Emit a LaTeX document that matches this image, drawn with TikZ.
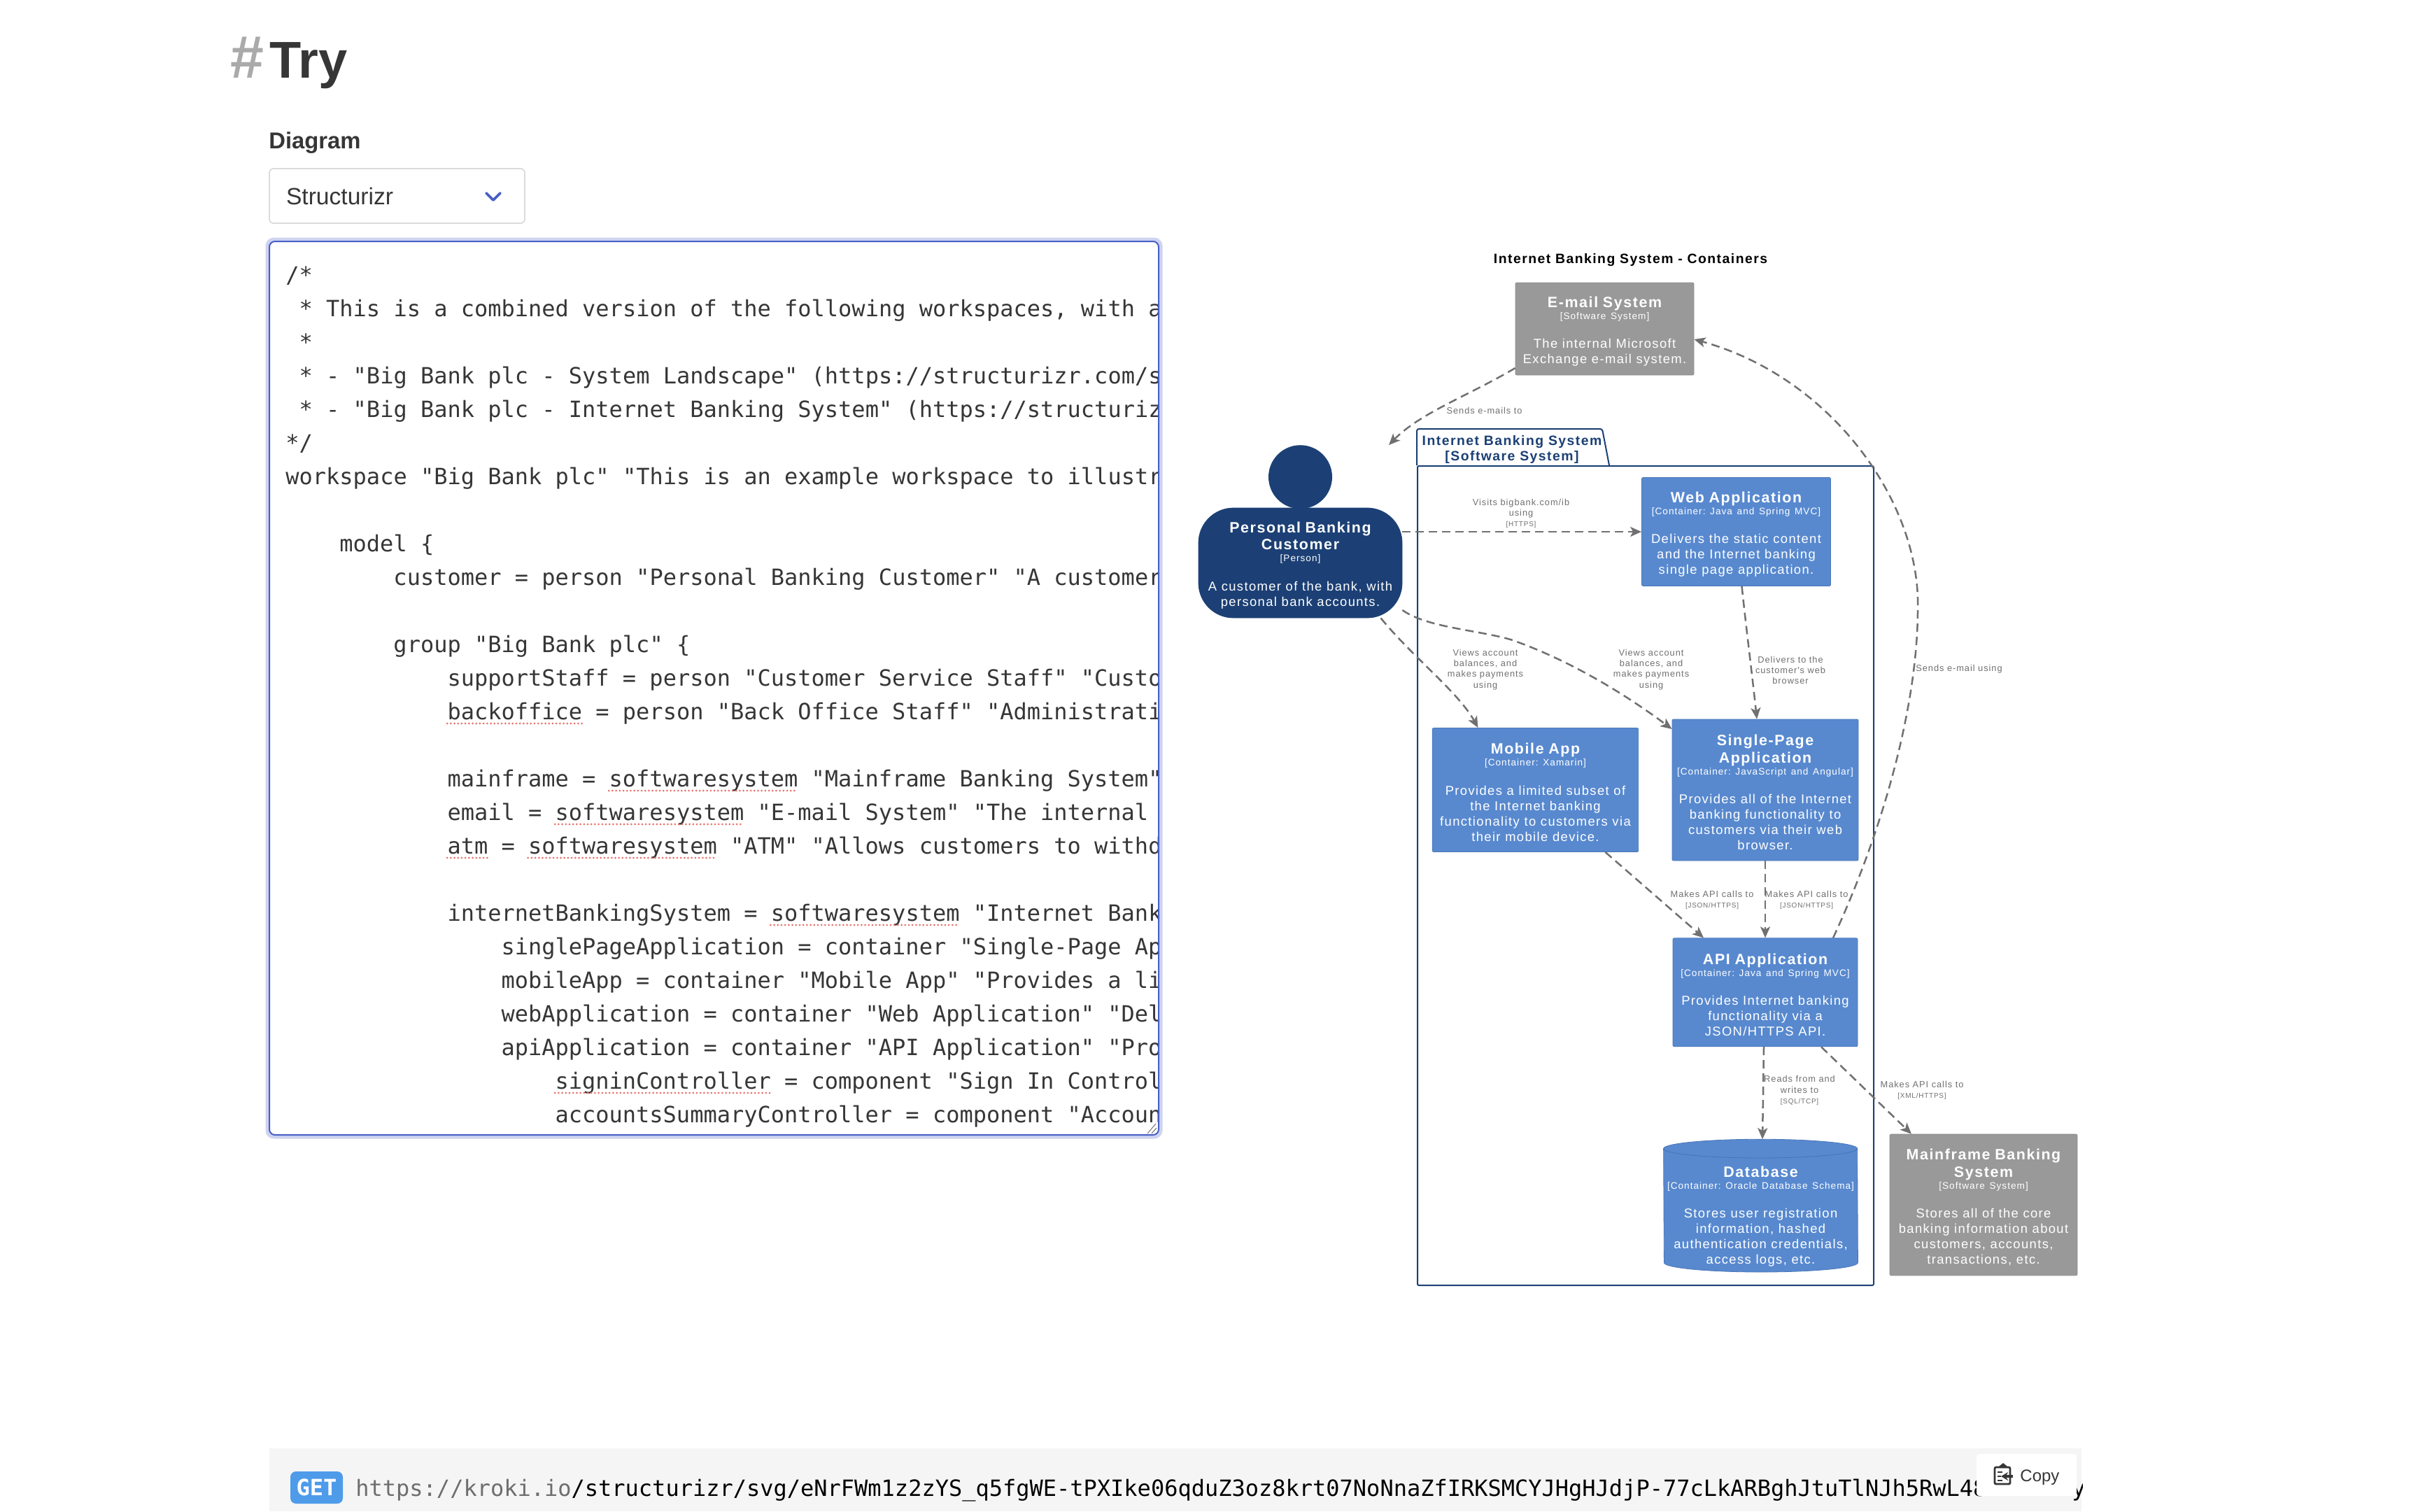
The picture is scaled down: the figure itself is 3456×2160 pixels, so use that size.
\documentclass[tikz,border=0pt]{standalone}
\usepackage{fontspec}
\usetikzlibrary{positioning,arrows.meta}
\setmainfont{Liberation Sans}
\newfontfamily\codefont{DejaVu Sans Mono}
\newfontfamily\spacedfont[LetterSpace=7.5]{Liberation Sans}
\definecolor{bodytext}{HTML}{363636}
\definecolor{hashgray}{HTML}{AAAAAA}
\definecolor{linkblue}{HTML}{485FC7}
\definecolor{halo}{HTML}{CDD3F0}
\definecolor{spellred}{HTML}{E8706A}
\definecolor{personblue}{HTML}{1C4075}
\definecolor{boxblue}{HTML}{5889CF}
\definecolor{boxedge}{HTML}{4A76B8}
\definecolor{boxgray}{HTML}{999999}
\definecolor{grayedge}{HTML}{8C8C8C}
\definecolor{relgray}{HTML}{707070}
\definecolor{barfill}{HTML}{F5F5F5}
\definecolor{getblue}{HTML}{4E9BEA}
\definecolor{urlgray}{HTML}{6E6E6E}
\newcommand{\headtext}{\spacedfont\bfseries\fontsize{10.7pt}{12.25pt}\selectfont}
\newcommand{\subtext}{\spacedfont\mdseries\fontsize{6.8pt}{8.5pt}\selectfont}
\newcommand{\desctext}{\spacedfont\mdseries\fontsize{9.2pt}{11pt}\selectfont}
\newcommand{\techtext}{\fontsize{5pt}{6.6pt}\selectfont}
\newcommand{\elementtext}[3]{{\headtext #1\par}{\subtext #2\par}\vspace{9.85pt}{\desctext #3\par}\vspace{-3.6pt}}
\begin{document}
\frenchspacing
\begin{tikzpicture}[x=0.5pt,y=-0.5pt,
  element/.style n args={2}{draw,rounded corners=1pt,line width=0.4pt,text=white,inner sep=0pt,
    align=center,text width=#1,minimum height=#2},
  container/.style 2 args={element={#1}{#2},fill=boxblue,draw=boxedge},
  system/.style 2 args={element={#1}{#2},fill=boxgray,draw=grayedge},
  rel/.style={draw=relgray,line width=1.25pt,dash pattern=on 6pt off 3.5pt,
    -{Stealth[length=8pt,width=7pt,inset=2pt]}},
  rellabel/.style={text=relgray,inner sep=0pt,align=center,
    font=\spacedfont\fontsize{6.4pt}{7.6pt}\selectfont},
  codeline/.style={anchor=base west,inner sep=0pt,text=bodytext,
    font=\codefont\fontsize{16pt}{20pt}\selectfont},
  spell/.style={draw=spellred,line width=1.5pt,line cap=round,dash pattern=on 0pt off 2.6pt}]
\useasboundingbox (0,0) rectangle (3456,2160);
\fill[white] (0,0) rectangle (3456,2160);

\node[anchor=base west,inner sep=0pt,text=hashgray,font=\bfseries\fontsize{43pt}{44pt}\selectfont] (hash) at (329,111) {\#};
\node[anchor=base west,inner sep=0pt,text=bodytext,font=\bfseries\fontsize{37pt}{40pt}\selectfont] (pagetitle) at (385,111) {Try};
\node[anchor=base west,inner sep=0pt,text=bodytext,font=\bfseries\fontsize{16.4pt}{20pt}\selectfont] (diagramlabel) at (384,212) {Diagram};

\node[draw=black!14,fill=white,rounded corners=3pt,line width=0.9pt,minimum width=182.5pt,minimum height=39pt,
  text width=158.5pt,inner xsep=12pt,inner ysep=0pt,align=left,text=bodytext,font=\fontsize{16.8pt}{20pt}\selectfont] (select) at (567.5,280) {Structurizr};
\draw[linkblue,line width=1.9pt,line cap=round,line join=round] (695,276) -- (705,286) -- (715,276);

\node[fill=halo,rounded corners=6pt,minimum width=641pt,minimum height=644pt,inner sep=0pt] (texthalo) at (1020.5,983.5) {};
\node[draw=linkblue,fill=white,rounded corners=4pt,line width=1pt,minimum width=635.5pt,minimum height=638.5pt,inner sep=0pt] (textarea) at (1020.5,983.5) {};
\begin{scope}
\clip (390,348) rectangle (1654,1620);
\foreach \n/\ind/\txt in {1/0/{/*},
  2/1/{* This is a combined version of the following workspaces, with a},
  3/1/{*},
  4/1/{* - "Big Bank plc - System Landscape" (https://structurizr.com/s},
  5/1/{* - "Big Bank plc - Internet Banking System" (https://structuriz},
  6/0/{*/},
  7/0/{workspace "Big Bank plc" "This is an example workspace to illustr},
  9/4/{model \{},
  10/8/{customer = person "Personal Banking Customer" "A customer},
  12/8/{group "Big Bank plc" \{},
  13/12/{supportStaff = person "Customer Service Staff" "Custo},
  14/12/{backoffice = person "Back Office Staff" "Administrati},
  16/12/{mainframe = softwaresystem "Mainframe Banking System"},
  17/12/{email = softwaresystem "E-mail System" "The internal},
  18/12/{atm = softwaresystem "ATM" "Allows customers to withd},
  20/12/{internetBankingSystem = softwaresystem "Internet Bank},
  21/16/{singlePageApplication = container "Single-Page Ap},
  22/16/{mobileApp = container "Mobile App" "Provides a li},
  23/16/{webApplication = container "Web Application" "Del},
  24/16/{apiApplication = container "API Application" "Pro},
  25/20/{signinController = component "Sign In Control},
  26/20/{accountsSummaryController = component "Accoun}}
  \node[codeline] (code\n) at ({408+\ind*19.26},{404+(\n-1)*48}) {\txt};
\foreach \n/\col/\len in {14/12/10,16/24/14,17/20/14,18/12/3,18/18/14,20/36/14,25/20/16}
  \draw[spell] ({408+\col*19.26},{404+(\n-1)*48+6}) -- ++({\len*19.26},0);
\end{scope}
\draw[black!55,line width=0.5pt] (1652,1606) -- (1640,1620) (1653,1612) -- (1646,1620);

\node[fill=barfill,minimum width=1295pt,minimum height=45pt,inner sep=0pt] (bar) at (1680,2115) {};
\node[fill=getblue,rounded corners=4pt,minimum width=37.5pt,minimum height=23pt,inner sep=0pt,text=white,
  font=\codefont\bfseries\fontsize{16pt}{20pt}\selectfont] (getbadge) at (452.5,2126) {GET};
\node[codeline,text=black] (urltext) at (508,2138) {{\color{urlgray}https://kroki.io}/structurizr/svg/eNrFWm1z2zYS\_q5fgWE-tPXIke06qduZ3oz8krt07NoNnaZfIRKSMCYJHgHJdjP-77cLkARBghJtuTlNJh5RwL48};
\begin{scope}
\clip (2940,2070) rectangle (2976,2160);
\node[codeline,text=black] (urlend) at (2961,2138) {y};
\end{scope}
\node[fill=white,rounded corners=2pt,minimum width=71.5pt,minimum height=30pt,inner sep=0pt] (copybutton) at (2896.5,2108) {};
\draw[bodytext,line width=1.4pt,rounded corners=1pt] (2851,2097) rectangle (2873,2121);
\fill[bodytext] (2856,2098) -- (2858,2095) -- (2863,2091) -- (2868,2095) -- (2870,2098) -- cycle;
\draw[bodytext,line width=1.1pt] (2855,2104) -- (2862,2104) (2855,2110) -- (2860,2110) (2855,2116) -- (2862,2116);
\draw[bodytext,line width=1.6pt,-{Stealth[length=5pt,width=6pt]}] (2877,2110) -- (2860,2110);
\node[anchor=base west,inner sep=0pt,text=bodytext,font=\fontsize{12pt}{14pt}\selectfont] (copytext) at (2887,2117) {Copy};

\node[anchor=center,inner sep=0pt,text=black,font=\spacedfont\bfseries\fontsize{9.7pt}{12pt}\selectfont] (diagramtitle) at (2330.5,371.5) {Internet Banking System - Containers};

\node[draw=personblue,line width=1pt,rounded corners=1pt,inner sep=0pt,minimum width=326pt,minimum height=585.5pt] (boundary) at (2352,1251.5) {};
\draw[personblue,line width=1pt,rounded corners=1.5pt] (boundary.north west) -- ([shift={(0,-52)}]boundary.north west) -- ([shift={(265,-52)}]boundary.north west) -- ([shift={(275,0)}]boundary.north west);
\node[inner sep=0pt,align=center,text=personblue,font=\spacedfont\bfseries\fontsize{9.7pt}{11pt}\selectfont] (boundarytab) at (2161,642) {Internet Banking System\\{}[Software System]};

\node[system={127.5pt}{66pt}] (email) at (2293.5,470) {\elementtext{E-mail System}{[Software System]}{The internal Microsoft\\Exchange e-mail system.}};
\node[element={145.5pt}{78.5pt},fill=personblue,draw=personblue,rounded corners=25pt] (customer) at (1858.5,804.5) {\elementtext{Personal Banking\\Customer}{[Person]}{A customer of the bank, with\\personal bank accounts.}};
\node[circle,fill=personblue,inner sep=0pt,minimum size=45.5pt] (customerhead) [above=-1pt of customer] {};
\node[container={135pt}{77.5pt}] (web) at (2481.5,760) {\elementtext{Web Application}{[Container: Java and Spring MVC]}{Delivers the static content\\and the Internet banking\\single page application.}};
\node[container={133pt}{101pt}] (spa) at (2523,1129) {\elementtext{Single-Page\\Application}{[Container: JavaScript and Angular]}{Provides all of the Internet\\banking functionality to\\customers via their web\\browser.}};
\node[container={147.25pt}{88.5pt}] (mobile) [left=23.75pt of spa] {\elementtext{Mobile App}{[Container: Xamarin]}{Provides a limited subset of\\the Internet banking\\functionality to customers via\\their mobile device.}};
\node[container={132pt}{77.5pt}] (api) [below=55pt of spa] {\elementtext{API Application}{[Container: Java and Spring MVC]}{Provides Internet banking\\functionality via a\\JSON/HTTPS API.}};
\node[inner sep=0pt,minimum width=138.5pt,minimum height=94.5pt] (database) [below=66pt of api,xshift=-3.25pt] {};
\filldraw[fill=boxblue,draw=boxedge,line width=0.4pt] ([shift={(0,13.4)}]database.north west) arc[start angle=180,end angle=360,x radius=138.5,y radius=13.4] -- ([shift={(0,-13.4)}]database.south east) arc[start angle=0,end angle=180,x radius=138.5,y radius=13.4] -- cycle;
\draw[boxedge,line width=0.5pt] ([shift={(0,13.4)}]database.north west) arc[start angle=180,end angle=0,x radius=138.5,y radius=13.4];
\node[inner sep=0pt,text=white,text width=134pt,align=center] (databasetext) at (2516.5,1735) {\elementtext{Database}{[Container: Oracle Database Schema]}{Stores user registration\\information, hashed\\authentication credentials,\\access logs, etc.}};
\node[system={134pt}{100.9pt}] (mainframe) at (2835,1722) {\elementtext{Mainframe Banking\\System}{[Software System]}{Stores all of the core\\banking information about\\customers, accounts,\\transactions, etc.}};

\draw[rel] (email.west |- 0,526) .. controls (2100,565) and (2030,590) .. (1985,636);
\coordinate (mailbend) at (2741,870);
\draw[rel] ([shift={(97,0)}]api.north) .. controls (2690,1190) and (2741,1010) .. (mailbend) .. controls (2745,720) and (2620,540) .. (email.east |- 0,485);
\draw[rel] (customer.east |- web.west) -- (web.west);
\draw[rel] ([shift={(115,0)}]customer.south) .. controls (2020,940) and (2085,990) .. ([shift={(-82,0)}]mobile.north);
\coordinate (spabend) at (2159,914);
\draw[rel] (customer.east |- 0,872) .. controls (2040,897) and (2110,900) .. (spabend) .. controls (2240,942) and (2320,990) .. (spa.west |- 0,1042);
\draw[rel] ([shift={(8,0)}]web.south) .. controls (2496,900) and (2505,970) .. ([shift={(-12,0)}]spa.north);
\draw[rel] ([shift={(100,0)}]mobile.south) -- ([shift={(-88,0)}]api.north);
\draw[rel] (spa.south) -- (api.north);
\draw[rel] ([shift={(-2,0)}]api.south) -- ([shift={(2.5,0)}]database.north);
\draw[rel] ([shift={(80,0)}]api.south) -- ([shift={(-103,0)}]mainframe.north);

\node[rellabel] (sendsmails) at (2121.5,587) {Sends e-mails to};
\node[rellabel] (sendsmail) at (2800,956) {Sends e-mail using};
\node[rellabel] (visits) at (2174,734) {Visits bigbank.com/ib\\using\\{\techtext [HTTPS]}};
\node[rellabel] (viewsmobile) at (2123,957) {Views account\\balances, and\\makes payments\\using};
\node[rellabel] (viewsspa) at (2360,957) {Views account\\balances, and\\makes payments\\using};
\node[rellabel] (delivers) at (2559,958) {Delivers to the\\customer's web\\browser};
\node[rellabel] (makesmobile) at (2447,1286) {Makes API calls to\\{\techtext [JSON/HTTPS]}};
\node[rellabel] (makesspa) at (2582,1286) {Makes API calls to\\{\techtext [JSON/HTTPS]}};
\node[rellabel] (reads) at (2572,1558.5) {Reads from and\\writes to\\{\techtext [SQL/TCP]}};
\node[rellabel] (makesxml) at (2747,1558) {Makes API calls to\\{\techtext [XML/HTTPS]}};
\end{tikzpicture}
\end{document}
